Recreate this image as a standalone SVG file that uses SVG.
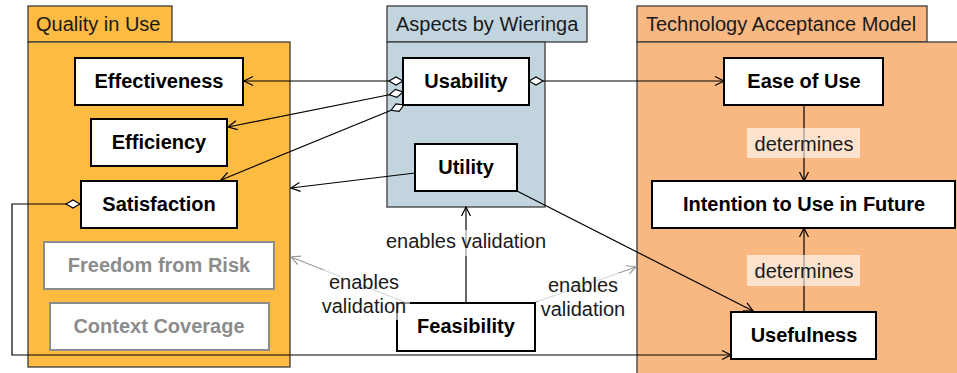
<svg xmlns="http://www.w3.org/2000/svg" width="957" height="373" viewBox="0 0 957 373">
  <style>
    .pkg { stroke: #3c3c3c; stroke-width: 1.3; }
    .qiu { fill: #FDBB42; }
    .asp { fill: #C2D5DF; }
    .tam { fill: #F9B882; }
    .node { fill: #ffffff; stroke: #000000; stroke-width: 2; }
    .node.dim { stroke: #8c8c8c; }
    .title { font-family: "Liberation Sans", Arial, sans-serif; font-size: 20px; fill: #1a1a1a; }
    .lbl { font-family: "Liberation Sans", Arial, sans-serif; font-size: 20px; fill: #1a1a1a; text-anchor: middle; }
    .name { font-family: "Liberation Sans", Arial, sans-serif; font-size: 20px; font-weight: bold; fill: #000000; text-anchor: middle; }
    .name.dim { fill: #8c8c8c; }
    .edge { fill: none; stroke: #000000; stroke-width: 1.2; }
    .edge.soft { stroke: #9a9a9a; }
    .lblbg { fill: #ffffff; fill-opacity: 0.6; }
  </style>
  <defs>
    <marker id="arr" markerUnits="userSpaceOnUse" markerWidth="14" markerHeight="14" viewBox="-12 -7 14 14" refX="0" refY="0" orient="auto">
      <path d="M-9,-4.5 L0,0 L-9,4.5" fill="none" stroke="#000" stroke-width="1.2"/>
    </marker>
    <marker id="arrSoft" markerUnits="userSpaceOnUse" markerWidth="14" markerHeight="14" viewBox="-12 -7 14 14" refX="0" refY="0" orient="auto">
      <path d="M-9,-4.5 L0,0 L-9,4.5" fill="none" stroke="#9a9a9a" stroke-width="1.2"/>
    </marker>
    <marker id="dia" markerUnits="userSpaceOnUse" markerWidth="18" markerHeight="12" viewBox="-1 -6 18 12" refX="0" refY="0" orient="auto">
      <path d="M0,0 L7,-4 L14,0 L7,4 Z" fill="#ffffff" stroke="#000" stroke-width="1.1"/>
    </marker>
  </defs>

  <!-- packages -->
  <g id="pkg-quality">
    <rect class="pkg qiu" x="28" y="6" width="144" height="36"/>
    <rect class="pkg qiu" x="28" y="42" width="262" height="325"/>
    <text class="title" x="36" y="31">Quality in Use</text>
  </g>
  <g id="pkg-aspects">
    <rect class="pkg asp" x="387" y="6" width="200" height="36"/>
    <rect class="pkg asp" x="387" y="42" width="158" height="165"/>
    <text class="title" x="396" y="31">Aspects by Wieringa</text>
  </g>
  <g id="pkg-tam">
    <rect class="pkg tam" x="637" y="6" width="290" height="36"/>
    <rect class="pkg tam" x="637" y="42" width="330" height="340"/>
    <text class="title" x="646" y="31">Technology Acceptance Model</text>
  </g>

  <!-- connectors -->
  <g id="connectors">
    <path class="edge" d="M403,81 L244,81" marker-start="url(#dia)" marker-end="url(#arr)"/>
    <path class="edge" d="M403,92 L228,127" marker-start="url(#dia)" marker-end="url(#arr)"/>
    <path class="edge" d="M404,105 L221,180" marker-start="url(#dia)" marker-end="url(#arr)"/>
    <path class="edge" d="M415,173 L291,188" marker-end="url(#arr)"/>
    <path class="edge" d="M529,81 L724,81" marker-start="url(#dia)" marker-end="url(#arr)"/>
    <path class="edge" d="M517,191 L753,311" marker-end="url(#arr)"/>
    <path class="edge" d="M80,204 L12,204 L12,355 L731,355" marker-start="url(#dia)" marker-end="url(#arr)"/>
    <path class="edge" d="M804,105 L804,181" marker-end="url(#arr)"/>
    <path class="edge" d="M804,312 L804,228" marker-end="url(#arr)"/>
    <path class="edge" d="M466,303 L466,207" marker-end="url(#arr)"/>
    <path class="edge soft" d="M407,303 L291,257" marker-end="url(#arrSoft)"/>
    <path class="edge soft" d="M533,303 L636,267" marker-end="url(#arrSoft)"/>
  </g>

  <!-- nodes -->
  <g id="effectiveness">
    <rect class="node" x="75" y="58" width="168" height="47"/>
    <text class="name" x="159" y="88">Effectiveness</text>
  </g>
  <g id="efficiency">
    <rect class="node" x="91" y="119" width="136" height="47"/>
    <text class="name" x="159" y="149">Efficiency</text>
  </g>
  <g id="satisfaction">
    <rect class="node" x="81" y="181" width="156" height="47"/>
    <text class="name" x="159" y="211">Satisfaction</text>
  </g>
  <g id="freedom-from-risk">
    <rect class="node dim" x="44" y="242" width="230" height="47"/>
    <text class="name dim" x="159" y="272">Freedom from Risk</text>
  </g>
  <g id="context-coverage">
    <rect class="node dim" x="50" y="303" width="219" height="47"/>
    <text class="name dim" x="159" y="333">Context Coverage</text>
  </g>
  <g id="usability">
    <rect class="node" x="403" y="58" width="126" height="47"/>
    <text class="name" x="466" y="88">Usability</text>
  </g>
  <g id="utility">
    <rect class="node" x="415" y="144" width="102" height="47"/>
    <text class="name" x="466" y="174">Utility</text>
  </g>
  <g id="ease-of-use">
    <rect class="node" x="724" y="58" width="159" height="47"/>
    <text class="name" x="804" y="88">Ease of Use</text>
  </g>
  <g id="intention">
    <rect class="node" x="652" y="181" width="303" height="47"/>
    <text class="name" x="804" y="211">Intention to Use in Future</text>
  </g>
  <g id="usefulness">
    <rect class="node" x="731" y="312" width="145" height="47"/>
    <text class="name" x="804" y="342">Usefulness</text>
  </g>
  <g id="feasibility">
    <rect class="node" x="397" y="303" width="138" height="48"/>
    <text class="name" x="466" y="333">Feasibility</text>
  </g>

  <!-- edge labels -->
  <g id="edge-labels">
    <rect class="lblbg" x="747" y="128" width="113" height="30"/>
    <text class="lbl" x="804" y="151">determines</text>
    <rect class="lblbg" x="747" y="255" width="113" height="31"/>
    <text class="lbl" x="804" y="278">determines</text>
    <rect class="lblbg" x="385" y="230" width="162" height="26"/>
    <text class="lbl" x="466" y="248">enables validation</text>
    <rect class="lblbg" x="318" y="270" width="92" height="50"/>
    <text class="lbl" x="364" y="289">enables</text>
    <text class="lbl" x="364" y="313">validation</text>
    <rect class="lblbg" x="538" y="273" width="92" height="50"/>
    <text class="lbl" x="583" y="292">enables</text>
    <text class="lbl" x="583" y="316">validation</text>
  </g>
</svg>
